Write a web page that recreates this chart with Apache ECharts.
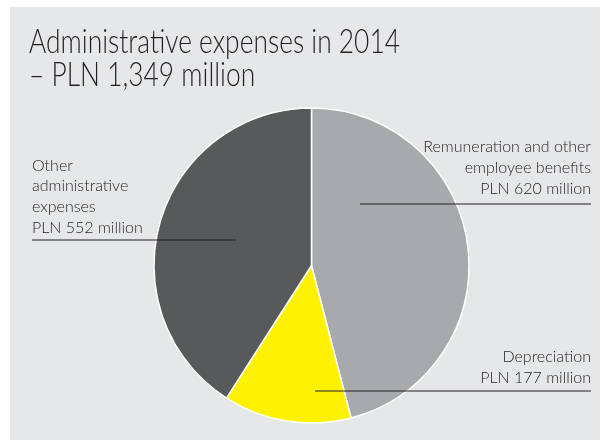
<!DOCTYPE html>
<html>
<head>
<meta charset="utf-8">
<script src="https://cdn.jsdelivr.net/npm/echarts@6/dist/echarts.min.js"></script>
<style>
  html, body { margin: 0; padding: 0; background: #ffffff; }
  #chart { width: 601px; height: 441px; }
</style>
</head>
<body>
<div id="chart"></div>
<script>
// Administrative expenses 2014, PLN million
const titleLines = ['Administrative expenses in 2014', '\u2013 PLN 1,349 million'];
const categories = ['Remuneration and other\nemployee benefits', 'Depreciation', 'Other\nadministrative\nexpenses'];
const values = [620, 177, 552];
const colors = ['#a7a9ac', '#fff200', '#58595b'];
const unitPrefix = 'PLN ';
const unitSuffix = ' million';

const FONT = 'Lato';
const TITLE_FONT = '300 34px ' + FONT;
const chart = echarts.init(document.getElementById('chart'), null, { renderer: 'canvas' });

const labelText = i => categories[i] + '\n' + unitPrefix + values[i] + unitSuffix;

// Narrow the title so its first line spans the header width
const measure = document.createElement('canvas').getContext('2d');
measure.font = TITLE_FONT;
const titleScale = 371 / measure.measureText(titleLines[0]).width;

// Callout placement: text block sitting on its leader line
const callouts = [
  { x: 591, lineY: 204, x1: 360, x2: 591, align: 'right', gap: 5 },
  { x: 591, lineY: 391, x1: 315, x2: 591, align: 'right', gap: 3 },
  { x: 32,  lineY: 240, x1: 32,  x2: 236, align: 'left',  gap: 2 }
];

const graphics = [
  { type: 'rect', shape: { x: 10, y: 7, width: 590, height: 433 }, style: { fill: '#e6e7e8' }, z: -10 },
  {
    type: 'text', x: 29, y: 26, scaleX: titleScale, originX: 0,
    style: { text: titleLines.join('\n'), font: TITLE_FONT, lineHeight: 33, fill: '#231f20' }
  }
];
callouts.forEach((c, i) => {
  graphics.push({
    type: 'line', shape: { x1: c.x1, y1: c.lineY, x2: c.x2, y2: c.lineY },
    style: { stroke: '#231f20', lineWidth: 1.2 }, z: 100
  });
  graphics.push({
    type: 'text', x: c.x, y: c.lineY - c.gap, z: 100,
    style: {
      text: labelText(i), font: '300 16px ' + FONT, lineHeight: 20.7,
      fill: '#231f20', align: c.align, verticalAlign: 'bottom'
    }
  });
});

chart.setOption({
  backgroundColor: '#ffffff',
  animation: false,
  color: colors,
  graphic: graphics,
  series: [{
    type: 'pie',
    center: [311.5, 265.5],
    radius: [0, 157.5],
    startAngle: 90,
    clockwise: true,
    label: { show: false },
    labelLine: { show: false },
    itemStyle: { borderColor: '#ffffff', borderWidth: 1.5 },
    emphasis: { disabled: true },
    data: categories.map((name, i) => ({ name: name, value: values[i] }))
  }]
});
</script>
</body>
</html>
